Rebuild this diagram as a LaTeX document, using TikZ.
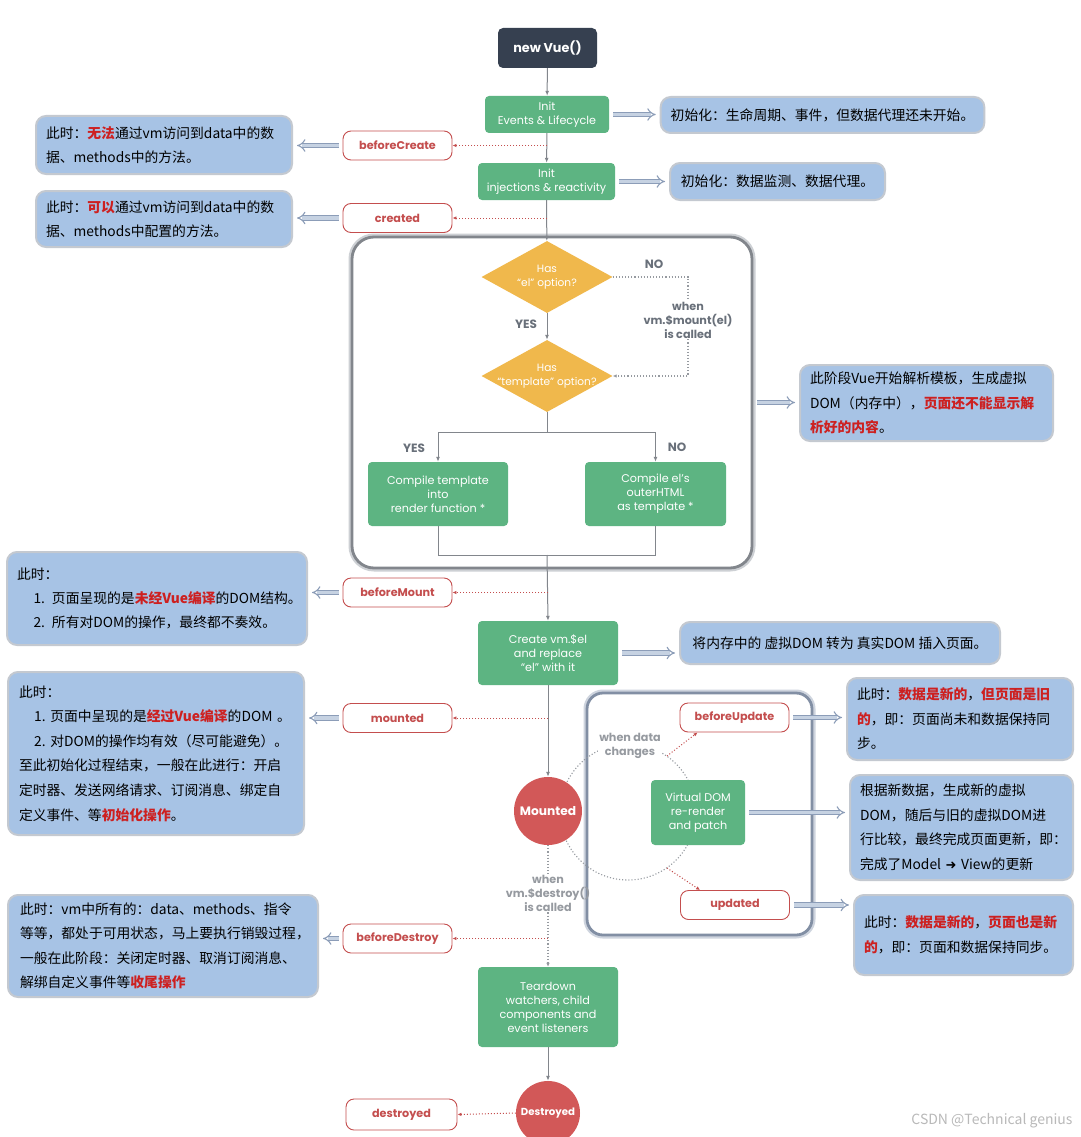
\documentclass[tikz,border=0pt]{standalone}
\usepackage{fontspec}
\setmainfont{Poppins}
\newfontfamily\cjk{Noto Sans CJK SC}
\newfontfamily\dejavu{DejaVu Sans}
\usetikzlibrary{arrows.meta,shapes.geometric,calc}
\definecolor{vgreen}{RGB}{93,180,130}
\definecolor{vred}{RGB}{210,88,88}
\definecolor{vredtxt}{RGB}{196,78,78}
\definecolor{hired}{RGB}{205,32,32}
\definecolor{vblue}{RGB}{167,195,229}
\definecolor{vbluebd}{RGB}{196,201,208}
\definecolor{vdark}{RGB}{54,64,80}
\definecolor{vorange}{RGB}{240,184,76}
\definecolor{vgray}{RGB}{130,134,140}
\definecolor{lblgray}{RGB}{105,112,122}
\definecolor{lightlbl}{RGB}{150,154,160}
\definecolor{harrow}{RGB}{140,157,184}
\definecolor{harrowfill}{RGB}{198,210,226}
\definecolor{boxbd}{RGB}{130,134,140}
\definecolor{boxhalo}{RGB}{205,208,212}
\definecolor{ubd}{RGB}{130,143,164}
\definecolor{uhalo}{RGB}{206,212,222}
\newcommand\hl[1]{{\color{hired}\bfseries #1}}
\begin{document}
\begin{tikzpicture}[x=1pt,y=-1pt,
  greenbox/.style={fill=vgreen, rounded corners=4pt, text=white, font=\fontsize{11.2}{14}\selectfont, align=center, inner sep=2pt},
  lbl/.style={draw=vredtxt, line width=0.9pt, fill=white, rounded corners=8pt, text=vredtxt, font=\bfseries\fontsize{11.2}{13}\selectfont, minimum width=109, minimum height=29, inner sep=1pt},
  bluebox/.style={fill=vblue, draw=vbluebd, line width=2pt, rounded corners=10pt, align=left, font=\cjk\fontsize{13.8}{24.5}\selectfont, inner xsep=10pt, inner ysep=3pt},
  flow/.style={draw=vgray, line width=1pt, -{Latex[length=5pt,width=4pt]}},
  plain/.style={draw=vgray, line width=1pt},
  reddot/.style={draw=vredtxt, line width=1pt, dotted, -{Latex[length=4pt,width=3.5pt]}},
  graydot/.style={draw=lightlbl, line width=1.1pt, dotted},
  hollow/.style={draw=harrow, double=harrowfill, double distance=3.2pt, line width=1.1pt, -{Implies[length=5pt]}, shorten <=4pt, shorten >=4pt},
  yn/.style={text=lblgray, font=\bfseries\fontsize{12}{13}\selectfont, inner sep=1pt},
  whenlbl/.style={font=\bfseries\fontsize{11.2}{14}\selectfont, align=center, inner sep=1pt},
  dia/.style={diamond, fill=vorange, minimum width=131, minimum height=72, inner sep=0pt},
  diatxt/.style={text=white, font=\fontsize{10.6}{14}\selectfont, align=center},
  bigbox/.style={fill=white, draw=boxbd, line width=2.8pt, rounded corners=22pt, preaction={draw=boxhalo, line width=7pt}},
  updbox/.style={fill=white, draw=ubd, line width=2.8pt, rounded corners=16pt, preaction={draw=uhalo, line width=7pt}}
]
\fill[white] (0,0) rectangle (1080,1137);
\useasboundingbox (0,0) rectangle (1080,1137);

% background group boxes
\node[bigbox, minimum width=400, minimum height=331] (tbox) at (552,402.5) {};
\node[updbox, minimum width=225, minimum height=242] (ubox) at (699.5,814) {};
\coordinate (cc) at (628,812);
\draw[graydot] (cc) circle[radius=68];

% main flow nodes
\node[fill=vdark, rounded corners=5pt, text=white, font=\bfseries\fontsize{12.8}{14}\selectfont, minimum width=99, minimum height=40] (nv) at (547.5,48) {new Vue()};
\node[greenbox, minimum width=124, minimum height=37] (ev) at (547,114.5) {Init\\Events \& Lifecycle};
\node[greenbox, minimum width=137, minimum height=37] (inj) at (546.5,181.5) {Init\\injections \& reactivity};
\node[dia, label={[diatxt]center:{Has\\“el” option?}}] (d1) at (547,277) {};
\node[dia, label={[diatxt]center:{Has\\“template” option?}}] (d2) at (547,376) {};
\node[greenbox, minimum width=140, minimum height=64] (ct) at (438,494) {Compile template\\into\\render function *};
\node[greenbox, minimum width=141, minimum height=64] (ce) at (655.5,494) {Compile el’s\\outerHTML\\as template *};
\node[greenbox, minimum width=140, minimum height=64] (cv) at (548,653) {Create vm.\$el\\and replace\\“el” with it};
\node[circle, fill=vred, minimum size=68, text=white, font=\bfseries\fontsize{12.2}{14}\selectfont, inner sep=0pt] (mt) at (548,811) {Mounted};
\node[greenbox, minimum width=94, minimum height=65] (vd) at (698,812.5) {Virtual DOM\\re-render\\and patch};
\node[greenbox, minimum width=140, minimum height=80] (td) at (548,1007) {Teardown\\watchers, child\\components and\\event listeners};
\node[circle, fill=vred, minimum size=64, text=white, font=\bfseries\fontsize{10.2}{12}\selectfont, inner sep=0pt] (ds) at (548,1113) {Destroyed};

% hook labels
\node[lbl] (bcl) at (397.5,145.5) {beforeCreate};
\node[lbl] (crl) at (397.5,218) {created};
\node[lbl] (bml) at (397.5,592.5) {beforeMount};
\node[lbl] (mtl) at (397.5,718) {mounted};
\node[lbl] (bul) at (734.5,717.5) {beforeUpdate};
\node[lbl] (upl) at (735,905) {updated};
\node[lbl] (bdl) at (397.5,938.5) {beforeDestroy};
\node[lbl, minimum width=111, minimum height=31] (dsl) at (401.5,1114.5) {destroyed};

% small labels
\node[yn] (no1) at (654,264) {NO};
\node[yn] (yes1) at (526,324) {YES};
\node[yn] (yes2) at (414,448) {YES};
\node[yn] (no2) at (677,447) {NO};
\node[whenlbl, text=lblgray] (ml) at (688,320) {when\\vm.\$mount(el)\\is called};
\node[whenlbl, text=lightlbl, fill=white] (wdc) at (630,746) {when data\\changes};
\node[whenlbl, text=lightlbl] (dl) at (548,893) {when\\vm.\$destroy()\\is called};

% blue description boxes
\node[bluebox, minimum width=319, minimum height=36] (b1) at (822.5,115) {初始化：生命周期、事件，但数据代理还未开始。};
\node[bluebox, minimum width=215, minimum height=37] (b2) at (777.5,181.5) {初始化：数据监测、数据代理。};
\node[bluebox, minimum width=254, minimum height=58, text width=236] (bcd) at (164,145) {此时：\hl{无法}通过vm访问到data中的数\\据、methods中的方法。};
\node[bluebox, minimum width=254, minimum height=56, text width=236] (crd) at (164,219) {此时：\hl{可以}通过vm访问到data中的数\\据、methods中配置的方法。};
\node[bluebox, minimum width=253, minimum height=76, text width=233] (tmd) at (926.5,403) {此阶段Vue开始解析模板，生成虚拟\\DOM（内存中），\hl{页面还不能显示解}\\\hl{析好的内容}。};
\node[bluebox, minimum width=298, minimum height=93, text width=280, font=\cjk\fontsize{13.8}{24}\selectfont] (bmd) at (157,598.5) {此时：\\\hspace*{1.2em}1. 页面呈现的是\hl{未经Vue编译}的DOM结构。\\\hspace*{1.2em}2. 所有对DOM的操作，最终都不奏效。};
\node[bluebox, minimum width=320, minimum height=42] (cvd) at (840,643) {将内存中的 虚拟DOM 转为 真实DOM 插入页面。};
\node[bluebox, minimum width=296, minimum height=163, text width=274, inner xsep=11pt, font=\cjk\fontsize{13.8}{24.6}\selectfont] (mtd) at (156,753.5) {此时：\\\hspace*{1.1em}1.~页面中呈现的是\hl{经过Vue编译}的DOM~。\\\hspace*{1.1em}2.~对DOM的操作均有效（尽可能避免）。\\至此初始化过程结束，一般在此进行：开启\\定时器、发送网络请求、订阅消息、绑定自\\定义事件、等\hl{初始化操作}。};
\node[bluebox, minimum width=226, minimum height=82, text width=206] (bud) at (960,719) {此时：\hl{数据是新的}，\hl{但页面是旧}\\\hl{的}，即：页面尚未和数据保持同\\步。};
\node[bluebox, minimum width=223, minimum height=105, text width=203] (vdd) at (961.5,827.5) {根据新数据，生成新的虚拟\\DOM，随后与旧的虚拟DOM进\\行比较，最终完成页面更新，即：\\完成了Model {\dejavu\bfseries\fontsize{13}{14}\selectfont ➜} View的更新};
\node[bluebox, minimum width=219, minimum height=80, text width=199] (upd) at (963.5,935) {此时：\hl{数据是新的}，\hl{页面也是新}\\\hl{的}，即：页面和数据保持同步。};
\node[bluebox, minimum width=310, minimum height=102, text width=286, inner xsep=12pt] (bdd) at (163,946) {此时：vm中所有的：data、methods、指令\\等等，都处于可用状态，马上要执行销毁过程，\\一般在此阶段：关闭定时器、取消订阅消息、\\解绑自定义事件等\hl{收尾操作}};

% main flow connectors
\draw[flow] (nv) -- (ev);
\draw[flow] (ev) -- (inj);
\draw[flow] (inj) -- (d1);
\draw[flow] (d1) -- (d2);
\coordinate (split) at (547,432);
\draw[plain] (d2.south) -- (split);
\draw[flow] (split) -| (ct.north);
\draw[flow] (split) -| (ce.north);
\coordinate (merge) at (547,555);
\draw[plain] (ct.south) |- (merge);
\draw[plain] (ce.south) |- (merge);
\draw[flow] (merge) -- (cv.north);
\draw[flow] (cv) -- (mt);
\draw[flow] (td) -- (ds);
\draw[graydot] (d1.east) -| (ml.north);
\draw[graydot, -{Latex[length=4pt,width=3.5pt]}] (ml.south) |- (d2.east);
\draw[graydot] (mt.south) -- (dl.north);
\draw[graydot, -{Latex[length=4pt,width=3.5pt]}] (dl.south) -- (td.north);

% hook connectors
\draw[reddot] (ev.south |- bcl.east) -- (bcl.east);
\draw[reddot] (inj.south |- crl.east) -- (crl.east);
\draw[reddot] (cv.north |- bml.east) -- (bml.east);
\draw[reddot] (cv.south |- mtl.east) -- (mtl.east);
\draw[reddot] (td.north |- bdl.east) -- (bdl.east);
\draw[reddot] (ds.west) -- (dsl.east);
\coordinate (cu) at (667,756);
\coordinate (cd) at (667,868);
\draw[reddot] (cu) -- ($(bul.south west)+(18,0)$);
\draw[reddot] (cd) -- ($(upl.north west)+(20,0)$);

% hollow arrows
\draw[hollow] (ev.east) -- (ev.east -| b1.west);
\draw[hollow] (inj.east) -- (inj.east -| b2.west);
\draw[hollow] (bcl.west) -- (bcl.west -| bcd.east);
\draw[hollow] (crl.west) -- (crl.west -| crd.east);
\draw[hollow] (tbox.east) -- (tbox.east -| tmd.west);
\draw[hollow] (bml.west) -- (bml.west -| bmd.east);
\draw[hollow] (cv.east) -- (cv.east -| cvd.west);
\draw[hollow] (mtl.west) -- (mtl.west -| mtd.east);
\draw[hollow] (bul.east) -- (bul.east -| bud.west);
\draw[hollow] (vd.east) -- (vd.east -| vdd.west);
\draw[hollow] (upl.east) -- (upl.east -| upd.west);
\draw[hollow] (bdl.west) -- (bdl.west -| bdd.east);

% watermark
\node[text=gray!55, font=\cjk\fontsize{14}{16}\selectfont, anchor=east] (wm) at (1076,1121) {CSDN @Technical genius};
\end{tikzpicture}
\end{document}
